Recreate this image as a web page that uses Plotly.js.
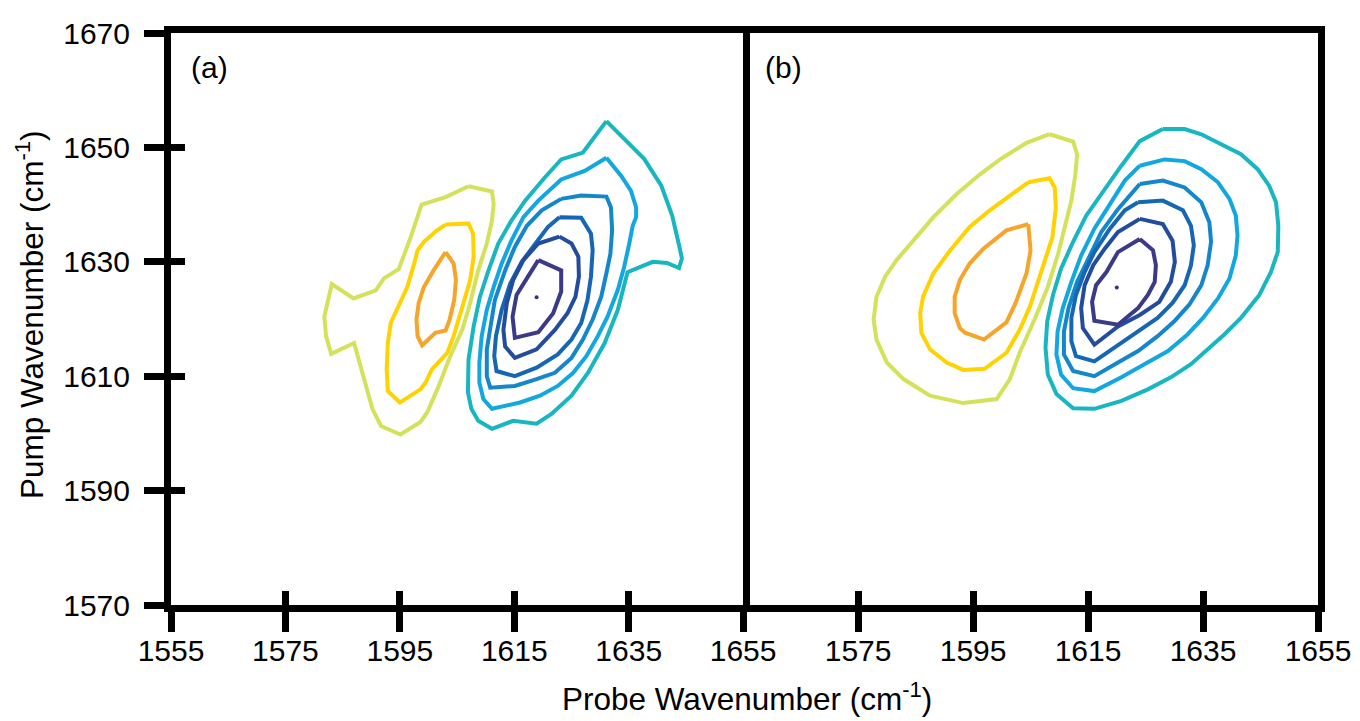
<!DOCTYPE html>
<html>
<head>
<meta charset="utf-8">
<script src="https://cdn.plot.ly/plotly-3.0.1.min.js"></script>
<style>html,body{margin:0;padding:0;background:#fff;}#chart{width:1360px;height:721px;}</style>
</head>
<body>
<div id="chart"></div>
<script>
// ---- Axis ticks ----
const pumpTicks = [1570, 1590, 1610, 1630, 1650, 1670];
const probeTicksA = [1555, 1575, 1595, 1615, 1635, 1655];
const probeTicksB = [1575, 1595, 1615, 1635, 1655];
const panelLabels = ['(a)', '(b)'];

// ---- Panel (a) contour paths [probe, pump] ----
const aNeg1 = [[1607.0,1643.2],[1611.1,1642.3],[1611.4,1640.1],[1611.1,1637.2],[1610.2,1633.2],[1608.7,1628.5],[1607.3,1622.8],[1605.9,1618.1],[1603.8,1613.5],[1601.8,1608.3],[1599.8,1603.7],[1598.6,1602.0],[1595.1,1599.8],[1591.7,1601.3],[1590.2,1604.3],[1589.1,1608.3],[1587.0,1615.8],[1583.0,1613.9],[1582.1,1617.0],[1581.8,1620.4],[1583.1,1626.1],[1586.9,1623.6],[1590.8,1625.0],[1592.2,1627.1],[1594.8,1628.7],[1596.9,1634.3],[1598.8,1640.0],[1603.0,1641.3]];
const aNeg2 = [[1603.0,1636.5],[1607.0,1636.7],[1607.8,1634.9],[1607.9,1630.9],[1607.3,1626.8],[1606.4,1623.9],[1605.6,1621.0],[1604.4,1617.0],[1603.3,1614.1],[1602.1,1612.9],[1600.6,1611.2],[1599.5,1608.9],[1598.6,1607.7],[1595.0,1605.4],[1592.9,1607.4],[1592.7,1611.2],[1592.9,1615.8],[1593.4,1619.3],[1594.8,1622.2],[1596.3,1625.6],[1597.5,1629.7],[1598.1,1632.0],[1599.2,1633.5],[1601.5,1635.5]];
const aNeg3 = [[1603.0,1631.7],[1604.4,1629.7],[1604.8,1626.8],[1604.5,1623.3],[1603.7,1619.9],[1603.0,1618.0],[1601.2,1617.6],[1600.2,1616.7],[1598.9,1615.4],[1598.1,1617.0],[1597.9,1619.9],[1598.3,1622.8],[1599.2,1625.6],[1600.9,1628.5]];
const aPos1 = [[1631.1,1654.6],[1634.2,1651.4],[1637.7,1648.0],[1640.7,1643.3],[1642.6,1638.1],[1643.8,1632.9],[1644.3,1630.6],[1643.8,1628.9],[1641.7,1629.8],[1639.2,1630.0],[1634.8,1628.2],[1633.1,1621.6],[1630.8,1615.8],[1627.9,1610.6],[1625.0,1606.6],[1621.5,1603.4],[1618.9,1601.7],[1614.8,1602.2],[1611.1,1600.8],[1608.7,1602.2],[1607.5,1604.3],[1606.9,1607.2],[1607.0,1612.9],[1607.9,1618.7],[1609.0,1623.9],[1610.5,1628.5],[1612.2,1633.2],[1614.5,1637.2],[1616.9,1640.7],[1620.3,1644.7],[1623.2,1647.9],[1627.0,1649.1]];
const aPos2 = [[1631.1,1648.2],[1633.7,1645.0],[1635.4,1642.4],[1636.3,1639.5],[1636.3,1637.8],[1635.7,1636.3],[1635.1,1633.2],[1634.2,1629.1],[1633.1,1625.1],[1631.3,1620.4],[1629.6,1617.0],[1627.6,1613.5],[1625.3,1610.6],[1622.6,1608.3],[1619.5,1606.6],[1616.0,1605.4],[1611.1,1604.3],[1609.6,1606.0],[1608.9,1608.9],[1608.9,1612.4],[1609.3,1617.0],[1610.2,1621.6],[1611.4,1625.6],[1612.8,1629.7],[1614.5,1633.7],[1616.6,1637.8],[1619.2,1640.7],[1623.2,1644.4],[1627.3,1645.9]];
const aPos3 = [[1623.2,1641.0],[1626.7,1641.6],[1631.1,1641.4],[1631.9,1639.5],[1632.1,1635.5],[1631.8,1631.4],[1631.1,1628.0],[1630.2,1623.9],[1628.7,1619.9],[1627.0,1616.4],[1625.0,1613.2],[1622.1,1610.6],[1618.9,1609.5],[1615.1,1608.3],[1610.8,1608.0],[1610.2,1610.0],[1610.2,1614.7],[1610.8,1618.7],[1611.6,1623.3],[1613.4,1628.5],[1615.1,1632.6],[1617.2,1636.3],[1619.8,1639.0]];
const aPos4 = [[1622.9,1637.8],[1626.7,1637.7],[1628.4,1634.9],[1628.7,1632.0],[1628.4,1627.4],[1627.8,1623.3],[1626.7,1619.3],[1625.0,1616.4],[1622.6,1613.8],[1618.9,1611.5],[1615.1,1610.0],[1611.9,1610.9],[1611.5,1613.5],[1611.8,1617.0],[1612.8,1621.6],[1614.3,1626.2],[1616.3,1630.0],[1618.9,1633.5],[1620.9,1636.1]];
const aPos5 = [[1622.9,1634.4],[1625.0,1633.2],[1626.2,1630.9],[1626.3,1627.4],[1625.7,1623.9],[1624.3,1621.0],[1622.1,1618.1],[1618.9,1614.7],[1615.1,1613.2],[1613.4,1615.2],[1613.1,1618.1],[1613.7,1622.8],[1614.8,1626.8],[1616.6,1630.3],[1619.2,1633.2]];
const aPos6 = [[1619.2,1630.3],[1623.2,1628.5],[1623.2,1624.8],[1621.8,1621.0],[1619.2,1617.7],[1615.1,1616.7],[1614.7,1620.4],[1615.4,1624.2],[1617.2,1627.1]];
const aPeak = [1618.9, 1623.8];

// ---- Panel (b) contour paths [probe, pump] ----
const bNeg1 = [[1608.3,1652.3],[1612.4,1651.0],[1613.1,1648.8],[1612.8,1645.3],[1612.1,1640.7],[1611.2,1637.2],[1609.8,1631.4],[1608.0,1625.6],[1605.7,1619.9],[1603.1,1614.1],[1601.4,1609.5],[1599.1,1606.0],[1593.3,1605.3],[1587.5,1606.6],[1582.9,1609.5],[1580.0,1612.4],[1578.2,1616.4],[1577.7,1619.9],[1578.2,1623.9],[1579.7,1627.4],[1581.7,1630.3],[1584.6,1633.7],[1588.1,1637.8],[1592.1,1641.8],[1596.2,1645.3],[1599.7,1647.9],[1604.3,1650.8]];
const bNeg2 = [[1604.6,1643.9],[1608.3,1644.6],[1609.2,1643.0],[1609.4,1639.5],[1608.8,1634.3],[1607.7,1630.9],[1606.3,1626.8],[1604.9,1622.2],[1603.1,1618.1],[1600.8,1614.1],[1597.0,1611.3],[1593.3,1611.1],[1590.4,1612.4],[1587.5,1614.7],[1586.0,1617.6],[1585.8,1621.0],[1586.3,1623.9],[1588.1,1628.0],[1591.0,1632.0],[1594.4,1636.1],[1597.9,1639.0],[1601.4,1641.6]];
const bNeg3 = [[1604.6,1636.6],[1605.0,1632.0],[1604.3,1628.0],[1602.4,1622.8],[1600.8,1619.4],[1596.9,1616.4],[1593.6,1617.6],[1592.7,1618.4],[1591.8,1621.0],[1591.8,1623.9],[1592.7,1626.8],[1594.4,1629.7],[1596.8,1632.3],[1600.8,1635.5]];
const bPos1 = [[1628.0,1653.2],[1631.8,1653.2],[1634.7,1652.3],[1638.1,1650.5],[1641.6,1648.8],[1644.5,1646.2],[1646.5,1643.3],[1647.7,1640.4],[1648.1,1636.3],[1648.0,1631.7],[1646.8,1628.2],[1644.8,1624.2],[1641.6,1620.2],[1638.7,1617.3],[1635.8,1614.7],[1632.9,1612.1],[1629.4,1609.8],[1625.4,1607.7],[1620.8,1605.7],[1616.1,1604.3],[1612.4,1604.4],[1609.5,1606.9],[1608.0,1610.3],[1607.6,1615.0],[1607.9,1619.6],[1608.9,1624.2],[1610.3,1628.8],[1612.4,1633.5],[1614.7,1638.1],[1617.9,1642.7],[1620.8,1646.8],[1624.0,1651.1]];
const bPos2 = [[1624.0,1646.8],[1628.3,1647.9],[1631.8,1647.6],[1634.7,1646.2],[1637.6,1643.9],[1639.6,1641.0],[1640.7,1638.1],[1641.0,1634.6],[1640.7,1631.1],[1639.6,1627.1],[1637.6,1623.6],[1635.0,1620.2],[1632.3,1617.3],[1628.9,1614.4],[1624.8,1612.1],[1620.8,1609.8],[1616.1,1607.4],[1612.4,1607.9],[1610.3,1610.3],[1609.5,1613.8],[1609.7,1617.8],[1610.6,1621.9],[1612.1,1626.5],[1613.8,1631.1],[1616.1,1635.8],[1619.0,1640.4],[1621.4,1644.2]];
const bPos3 = [[1624.0,1643.6],[1628.0,1644.2],[1631.8,1643.0],[1634.7,1640.4],[1636.1,1636.9],[1636.4,1633.5],[1635.8,1629.4],[1634.7,1625.9],[1632.6,1622.5],[1630.0,1619.6],[1627.1,1617.0],[1623.7,1614.4],[1620.2,1612.4],[1616.1,1610.0],[1612.4,1610.9],[1610.8,1613.8],[1610.8,1617.8],[1611.6,1621.9],[1613.1,1626.5],[1615.0,1630.6],[1617.3,1635.2],[1620.2,1639.2]];
const bPos4 = [[1623.7,1640.4],[1628.0,1640.7],[1631.5,1639.0],[1632.9,1636.3],[1633.4,1632.9],[1632.9,1629.4],[1631.8,1625.9],[1629.7,1622.8],[1627.1,1620.2],[1623.7,1617.8],[1620.2,1615.5],[1616.1,1612.6],[1612.9,1613.5],[1612.1,1616.1],[1612.1,1620.2],[1612.9,1624.2],[1614.4,1628.2],[1616.1,1631.7],[1618.8,1635.8],[1621.4,1639.0]];
const bPos5 = [[1624.0,1637.5],[1628.0,1636.6],[1629.7,1633.7],[1630.1,1630.0],[1629.4,1626.5],[1627.4,1623.0],[1624.0,1620.7],[1620.2,1618.7],[1616.1,1615.5],[1614.1,1618.4],[1613.8,1621.9],[1614.4,1625.9],[1615.9,1629.4],[1617.9,1632.3],[1620.2,1635.2]];
const bPos6 = [[1624.0,1634.0],[1626.3,1632.0],[1626.8,1629.4],[1626.6,1626.5],[1625.4,1624.2],[1623.7,1621.9],[1620.2,1619.0],[1616.1,1619.7],[1615.7,1623.0],[1616.4,1625.9],[1618.2,1628.2],[1620.2,1631.7]];
const bPeak = [1620.0, 1625.5];

// ---- Styles ----
const negColors = ['#d3e25a', '#ffd200', '#f6a52a'];
const posColors = ['#18b6c0', '#12a7e0', '#1486cc', '#1766b4', '#244c9e', '#3b3a88'];
const peakColor = '#3b2f7e';
const FONT = 'Arial, "Liberation Sans", "DejaVu Sans", sans-serif';

function pathTrace(pts, color, xa, ya) {
  const xs = pts.map(p => p[0]).concat([pts[0][0]]);
  const ys = pts.map(p => p[1]).concat([pts[0][1]]);
  return {type: 'scatter', mode: 'lines', x: xs, y: ys, xaxis: xa, yaxis: ya,
          line: {color: color, width: 4}, hoverinfo: 'skip', showlegend: false};
}
function peakTrace(pt, xa, ya) {
  return {type: 'scatter', mode: 'markers', x: [pt[0]], y: [pt[1]], xaxis: xa, yaxis: ya,
          marker: {color: peakColor, size: 4}, hoverinfo: 'skip', showlegend: false};
}

const traces = [];
[aNeg1, aNeg2, aNeg3].forEach((p, i) => traces.push(pathTrace(p, negColors[i], 'x', 'y')));
[aPos1, aPos2, aPos3, aPos4, aPos5, aPos6].forEach((p, i) => traces.push(pathTrace(p, posColors[i], 'x', 'y')));
traces.push(peakTrace(aPeak, 'x', 'y'));
[bNeg1, bNeg2, bNeg3].forEach((p, i) => traces.push(pathTrace(p, negColors[i], 'x2', 'y2')));
[bPos1, bPos2, bPos3, bPos4, bPos5, bPos6].forEach((p, i) => traces.push(pathTrace(p, posColors[i], 'x2', 'y2')));
traces.push(peakTrace(bPeak, 'x2', 'y2'));
// empty traces so the overlay (inside-tick) axes are drawn
traces.push({type:'scatter', x: [], y: [], xaxis: 'x3', yaxis: 'y', hoverinfo:'skip', showlegend:false});
traces.push({type:'scatter', x: [], y: [], xaxis: 'x4', yaxis: 'y2', hoverinfo:'skip', showlegend:false});
traces.push({type:'scatter', x: [], y: [], xaxis: 'x', yaxis: 'y3', hoverinfo:'skip', showlegend:false});

const xRange = [probeTicksA[0], probeTicksA[probeTicksA.length - 1]];
const yRange = [pumpTicks[0], pumpTicks[pumpTicks.length - 1]];
const LW = 7;
const tickFont = {family: FONT, size: 30, color: '#000'};
const splitA = 0.4988;

const baseX = {range: xRange, showgrid: false, zeroline: false, showline: true, linewidth: LW,
  linecolor: '#000', mirror: true, ticks: 'outside', ticklen: 20, tickwidth: LW, tickcolor: '#000',
  tickfont: tickFont, ticklabelstandoff: -7, fixedrange: true};
const innerTicks = {showgrid: false, zeroline: false, showline: false, ticks: 'inside', ticklen: 14,
  tickwidth: LW, tickcolor: '#000', showticklabels: false, fixedrange: true};

const layout = {
  width: 1360, height: 721,
  margin: {l: 171, r: 42, t: 33, b: 116, pad: 0},
  paper_bgcolor: '#fff', plot_bgcolor: '#fff',
  showlegend: false,
  font: {family: FONT, color: '#000', size: 30},
  xaxis: Object.assign({}, baseX, {domain: [0, splitA], anchor: 'y', tickvals: probeTicksA,
    ticktext: probeTicksA.map(String)}),
  xaxis2: Object.assign({}, baseX, {domain: [splitA, 1], anchor: 'y2', tickvals: probeTicksB,
    ticktext: probeTicksB.map(String)}),
  xaxis3: Object.assign({}, innerTicks, {overlaying: 'x', anchor: 'y', range: xRange,
    tickvals: probeTicksA.slice(1, -1)}),
  xaxis4: Object.assign({}, innerTicks, {overlaying: 'x2', anchor: 'y2', range: xRange,
    tickvals: probeTicksB.slice(0, -1)}),
  yaxis: {domain: [0, 1], anchor: 'x', range: yRange, tickvals: pumpTicks, ticktext: pumpTicks.map(String),
    showgrid: false, zeroline: false, showline: true, linewidth: LW, linecolor: '#000', mirror: true,
    ticks: 'outside', ticklen: 20, tickwidth: LW, tickcolor: '#000', tickfont: tickFont,
    ticklabelstandoff: 8, fixedrange: true},
  yaxis2: {domain: [0, 1], anchor: 'x2', range: yRange, side: 'right', showgrid: false, zeroline: false,
    showline: true, linewidth: LW, linecolor: '#000', mirror: false, ticks: '', showticklabels: false,
    fixedrange: true},
  yaxis3: Object.assign({}, innerTicks, {overlaying: 'y', anchor: 'x', side: 'left', range: yRange,
    tickvals: pumpTicks.slice(1, -1)}),
  annotations: [
    {text: panelLabels[0], xref: 'x domain', yref: 'y domain', x: 0.031, y: 0.939,
     xanchor: 'left', yanchor: 'middle', showarrow: false, font: {family: FONT, size: 30, color: '#000'}},
    {text: panelLabels[1], xref: 'x2 domain', yref: 'y2 domain', x: 0.035, y: 0.939,
     xanchor: 'left', yanchor: 'middle', showarrow: false, font: {family: FONT, size: 30, color: '#000'}},
    {text: 'Probe Wavenumber (cm<sup>-1</sup>)', xref: 'paper', yref: 'paper', x: 0.5022, y: -0.161,
     xanchor: 'center', yanchor: 'middle', showarrow: false, font: {family: FONT, size: 31.5, color: '#000'}},
    {text: 'Pump Wavenumber (cm<sup>-1</sup>)', xref: 'paper', yref: 'paper', x: -0.1229, y: 0.507,
     xanchor: 'center', yanchor: 'middle', textangle: -90, showarrow: false,
     font: {family: FONT, size: 31.5, color: '#000'}}
  ]
};

Plotly.newPlot('chart', traces, layout, {displayModeBar: false, staticPlot: true});
</script>
</body>
</html>
